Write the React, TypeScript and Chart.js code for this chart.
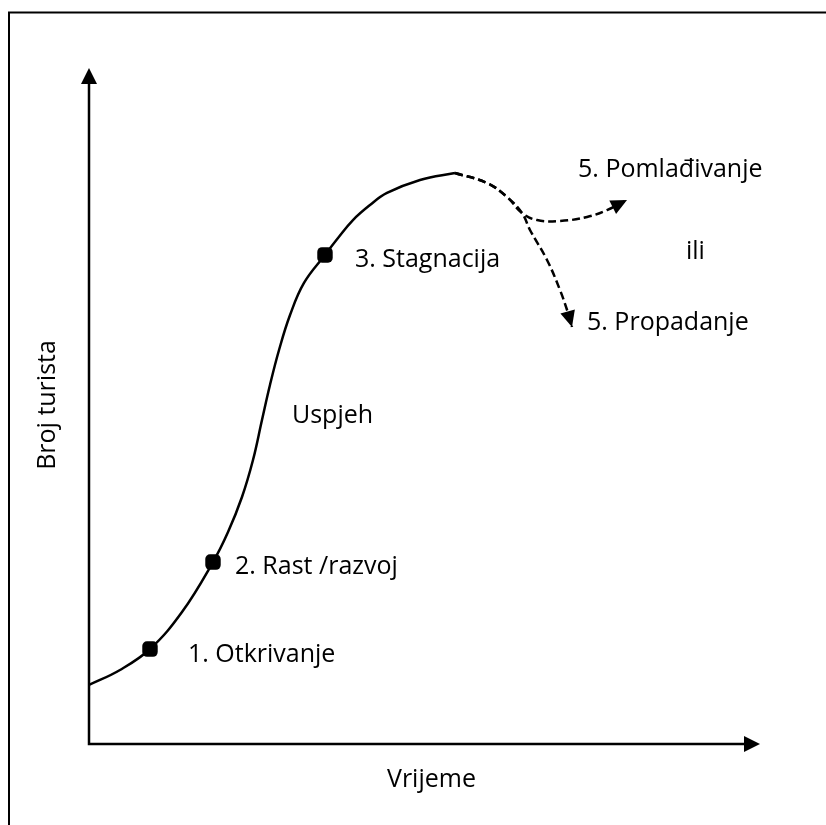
import React, { useEffect, useRef } from "react";
import { Chart, registerables } from "chart.js";

Chart.register(...registerables);

// Main life-cycle curve (time vs number of tourists, arbitrary units 0..100)
const curveX = [0, 4.62, 9.09, 13.86, 18.48, 20.72, 22.8, 24.44, 25.78, 26.97, 28.32, 29.96, 32.04, 35.17, 37.11, 39.34, 41.88, 44.41, 49.33, 54.55];
const curveY = [8.73, 10.95, 14.05, 19.53, 26.92, 31.36, 36.54, 42.01, 47.93, 53.11, 58.28, 63.46, 68.2, 72.34, 74.85, 77.51, 79.73, 81.51, 83.43, 84.47];

// Stage markers (1., 2., 3.)
const stageX = [9.09, 18.48, 35.17];
const stageY = [14.05, 26.92, 72.34];

// Dashed branch: rejuvenation
const rejuvX = [54.55, 59.31, 62.3, 64.53, 66.77, 70.19, 74.22, 77.2, 80.18];
const rejuvY = [84.47, 82.99, 80.92, 78.55, 77.51, 77.37, 77.96, 78.99, 80.47];

// Dashed branch: decline
const declineX = [54.55, 59.31, 62.3, 64.53, 65.72, 68.26, 70.19, 71.39, 71.98];
const declineY = [84.47, 82.99, 80.92, 78.55, 76.04, 71.6, 67.16, 63.76, 61.69];

// Text labels
const labelTexts = ["1. Otkrivanje", "2. Rast /razvoj", "3. Stagnacija", "Uspjeh", "5. Pomlađivanje", "ili", "5. Propadanje"];
const labelX = [14.75, 21.76, 39.64, 30.25, 72.88, 88.97, 74.22];
const labelY = [12.13, 25.15, 70.56, 47.49, 83.88, 71.75, 61.24];

const xAxisTitle = "Vrijeme";
const yAxisTitle = "Broj turista";

const FONT = '25px "Open Sans"';

const toPts = (xs: number[], ys: number[]) => xs.map((x, i) => ({ x, y: ys[i] }));

function arrowHead(ctx: CanvasRenderingContext2D, x0: number, y0: number, x1: number, y1: number, len: number, half: number) {
  const a = Math.atan2(y1 - y0, x1 - x0);
  const bx = x1 - Math.cos(a) * len;
  const by = y1 - Math.sin(a) * len;
  const nx = -Math.sin(a) * half;
  const ny = Math.cos(a) * half;
  ctx.beginPath();
  ctx.moveTo(x1, y1);
  ctx.lineTo(bx + nx, by + ny);
  ctx.lineTo(bx - nx, by - ny);
  ctx.closePath();
  ctx.fill();
}

const decorPlugin = {
  id: "decor",
  beforeDatasetsDraw(chart: any) {
    const ctx: CanvasRenderingContext2D = chart.ctx;
    const { left, right, top, bottom } = chart.chartArea;
    ctx.save();
    // outer frame (only left and top visible)
    ctx.strokeStyle = "#000";
    ctx.lineWidth = 2;
    ctx.strokeRect(9, 12.5, chart.width + 20, chart.height + 20);
    // axes
    ctx.lineWidth = 2.5;
    ctx.beginPath();
    ctx.moveTo(left, top + 12);
    ctx.lineTo(left, bottom);
    ctx.lineTo(right - 12, bottom);
    ctx.stroke();
    ctx.fillStyle = "#000";
    arrowHead(ctx, left, bottom, left, top, 16, 8);
    arrowHead(ctx, left, bottom, right, bottom, 16, 8);
    ctx.restore();
  },
  afterDatasetsDraw(chart: any) {
    const ctx: CanvasRenderingContext2D = chart.ctx;
    const xs = chart.scales.x;
    const ys = chart.scales.y;
    ctx.save();
    ctx.fillStyle = "#000";
    // arrowheads on dashed branches
    const branchArrows = [
      [rejuvX, rejuvY],
      [declineX, declineY],
    ];
    branchArrows.forEach(([bx, by]) => {
      const n = bx.length;
      arrowHead(
        ctx,
        xs.getPixelForValue(bx[n - 2]),
        ys.getPixelForValue(by[n - 2]),
        xs.getPixelForValue(bx[n - 1]),
        ys.getPixelForValue(by[n - 1]),
        16,
        7.5
      );
    });
    // labels
    ctx.font = FONT;
    ctx.textBaseline = "alphabetic";
    ctx.textAlign = "left";
    labelTexts.forEach((t, i) => {
      ctx.fillText(t, xs.getPixelForValue(labelX[i]), ys.getPixelForValue(labelY[i]));
    });
    // axis titles
    ctx.fillText(xAxisTitle, xs.getPixelForValue(44.41), ys.getPixelForValue(-6.36));
    ctx.save();
    ctx.translate(xs.getPixelForValue(-5.07), ys.getPixelForValue(50.15));
    ctx.rotate(-Math.PI / 2);
    ctx.textAlign = "center";
    ctx.fillText(yAxisTitle, 0, 0);
    ctx.restore();
    ctx.restore();
  },
};

export default function App() {
  const ref = useRef<HTMLCanvasElement | null>(null);
  useEffect(() => {
    if (!ref.current) return;
    const chart = new Chart(ref.current, {
      type: "scatter",
      data: {
        datasets: [
          {
            data: toPts(curveX, curveY),
            showLine: true,
            borderColor: "#000",
            borderWidth: 2.5,
            pointRadius: 0,
            tension: 0.4,
          } as any,
          {
            data: toPts(rejuvX, rejuvY),
            showLine: true,
            borderColor: "#000",
            borderWidth: 2.5,
            borderDash: [8, 4],
            pointRadius: 0,
            tension: 0.4,
          } as any,
          {
            data: toPts(declineX, declineY),
            showLine: true,
            borderColor: "#000",
            borderWidth: 2.5,
            borderDash: [8, 4],
            pointRadius: 0,
            tension: 0.4,
          } as any,
          {
            data: toPts(stageX, stageY),
            showLine: false,
            pointStyle: "rectRounded",
            pointRadius: 9,
            pointBackgroundColor: "#000",
            pointBorderWidth: 0,
          } as any,
        ],
      },
      options: {
        responsive: false,
        animation: false,
        layout: { padding: { left: 89, top: 68, right: 66, bottom: 81 } },
        plugins: { legend: { display: false }, tooltip: { enabled: false } },
        events: [],
        scales: {
          x: { type: "linear", min: 0, max: 100, display: false },
          y: { type: "linear", min: 0, max: 100, display: false },
        },
      },
      plugins: [decorPlugin],
    });
    return () => chart.destroy();
  }, []);
  return (
    <div style={{ position: "absolute", left: 0, top: 0, width: 826, height: 825, background: "#fff" }}>
      <canvas ref={ref} width={826} height={825} style={{ display: "block" }} />
    </div>
  );
}
